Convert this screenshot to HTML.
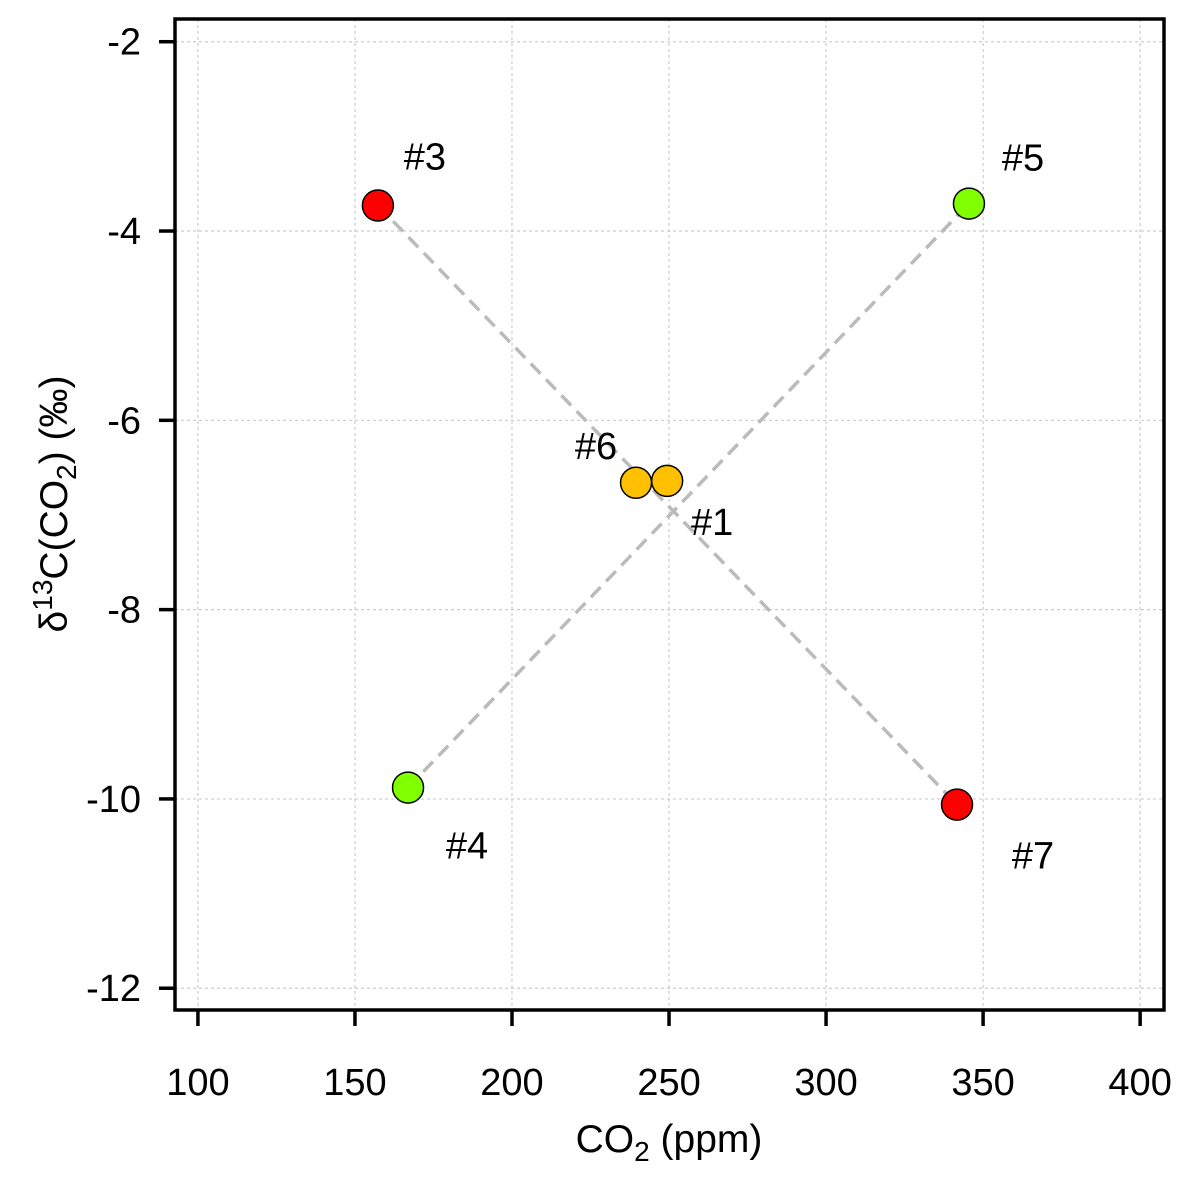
<!DOCTYPE html>
<html><head><meta charset="utf-8"><style>
body{margin:0;background:#fff;}
svg{display:block;font-family:"Liberation Sans",Arial,sans-serif;}
</style></head><body>
<svg id="chart" width="1194" height="1179" viewBox="0 0 1194 1179">
<g id="grid"></g>
<g id="lines"></g>
<g id="points"></g>
<g id="labels"></g>
<rect x="175" y="19" width="989" height="991" fill="none" stroke="#000" stroke-width="3.5"/>
<g id="axes"></g>
<text x="669" y="1152" font-size="39" text-anchor="middle">CO<tspan font-size="28" dy="9">2</tspan><tspan dy="-9"> (ppm)</tspan></text>
<text transform="translate(67,504) rotate(-90)" font-size="39" text-anchor="middle">δ<tspan font-size="28" dy="-15">13</tspan><tspan dy="15">C(CO</tspan><tspan font-size="28" dy="9">2</tspan><tspan dy="-9">) (‰)</tspan></text>
</svg>
<script>
const xTicks=[100,150,200,250,300,350,400];
const yTicks=[-2,-4,-6,-8,-10,-12];
const names=["#1","#3","#4","#5","#6","#7"];
const co2=[249.4,157.3,166.9,345.5,239.5,341.7];
const d13c=[-6.64,-3.73,-9.88,-3.71,-6.66,-10.06];
const colors=["#ffc000","#ff0000","#7fff00","#7fff00","#ffc000","#ff0000"];
const links=[[1,5],[2,3]];
const ns="http://www.w3.org/2000/svg";
const L=175,R=1164,T=19,B=1010,x0=92.7,x1=407.6,y0=-12.23,y1=-1.76;
const X=v=>L+(v-x0)/(x1-x0)*(R-L);
const Y=v=>B-(v-y0)/(y1-y0)*(B-T);
function mk(p,t,a){const e=document.createElementNS(ns,t);for(const k in a)e.setAttribute(k,a[k]);p.appendChild(e);return e;}
const g=document.getElementById('grid'),ax=document.getElementById('axes');
xTicks.forEach(v=>{
 const l=mk(g,'line',{x1:X(v),x2:X(v),y1:T,y2:B,stroke:'#ccc','stroke-width':1.2,'stroke-dasharray':'3,3'});
 
 const t=mk(ax,'line',{x1:X(v),x2:X(v),y1:B,y2:B+16,stroke:'#000','stroke-width':3.5});
 
 const s=mk(ax,'text',{x:X(v),y:1095,'font-size':38,'text-anchor':'middle'});s.textContent=v;
 
});
yTicks.forEach(v=>{
 const l=mk(g,'line',{x1:L,x2:R,y1:Y(v),y2:Y(v),stroke:'#ccc','stroke-width':1.2,'stroke-dasharray':'3,3'});
 
 const t=mk(ax,'line',{x1:L-16,x2:L,y1:Y(v),y2:Y(v),stroke:'#000','stroke-width':3.5});
 
 const s=mk(ax,'text',{x:141,y:Y(v)+13,'font-size':38,'text-anchor':'end'});s.textContent=(v<0?'-':'')+Math.abs(v);
 
});
const lg=document.getElementById('lines');
links.forEach(([a,b])=>{
 const l=mk(lg,'line',{x1:X(co2[a]),y1:Y(d13c[a]),x2:X(co2[b]),y2:Y(d13c[b]),stroke:'#bbb','stroke-width':3.5,'stroke-dasharray':'14,8'});
 
});
const pg=document.getElementById('points'),lb=document.getElementById('labels');
const off={"#1":[45,41],"#3":[47,-49],"#4":[59,58],"#5":[54,-46],"#6":[-40,-37],"#7":[76,51]};
names.forEach((n,i)=>{
 const c=mk(pg,'circle',{cx:X(co2[i]),cy:Y(d13c[i]),r:15.5,fill:colors[i],stroke:'#000','stroke-width':1.5});
 
 const o=off[n];
 const t=mk(lb,'text',{x:X(co2[i])+o[0],y:Y(d13c[i])+o[1]+13,'font-size':38,'text-anchor':'middle'});t.textContent=n;
 
});
</script>
</body></html>
